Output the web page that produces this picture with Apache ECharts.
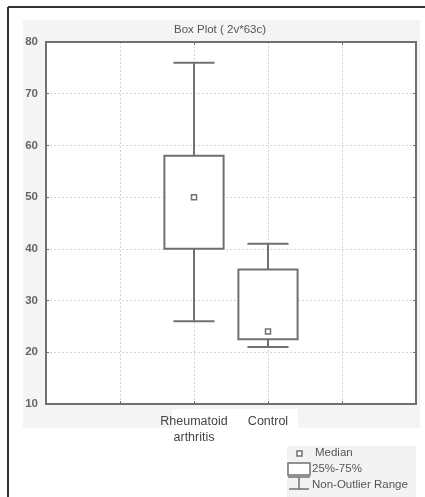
<!DOCTYPE html>
<html>
<head>
<meta charset="utf-8">
<script src="https://cdn.jsdelivr.net/npm/echarts@6/dist/echarts.min.js"></script>
<style>html,body{margin:0;padding:0;background:#fff;}#c{width:425px;height:497px;}</style>
</head>
<body>
<div id="c"></div>
<script>
// ---- data ----
const xTickLabels = ['', '', 'Rheumatoid\narthritis', 'Control', '', ''];
const groups = ['Rheumatoid\narthritis', 'Control'];
const whiskerLow = [26, 21];
const q1 = [40, 22.5];
const median = [50, 24];
const q3 = [58, 36];
const whiskerHigh = [76, 41];
const yTicks = [10, 20, 30, 40, 50, 60, 70, 80];
const titleText = 'Box Plot ( 2v*63c)';
const legendLabels = ['Median', '25%-75%', 'Non-Outlier Range'];

const seriesData = groups.map((g, i) => [xTickLabels.indexOf(g), whiskerLow[i], q1[i], median[i], q3[i], whiskerHigh[i]]);

const LINE = '#707070';
const FONT = 'Liberation Sans, Arial, sans-serif';
const chart = echarts.init(document.getElementById('c'), null, {renderer: 'canvas'});

function renderBox(params, api) {
  const x = api.value(0);
  const band = api.size([1, 0])[0];
  const bw = band * 0.8, cw = band * 0.555;
  const pLow = api.coord([x, api.value(1)]);
  const pQ1 = api.coord([x, api.value(2)]);
  const pMed = api.coord([x, api.value(3)]);
  const pQ3 = api.coord([x, api.value(4)]);
  const pHigh = api.coord([x, api.value(5)]);
  const cx = pQ1[0];
  const st = {stroke: LINE, lineWidth: 2, fill: null};
  return {
    type: 'group',
    children: [
      {type: 'line', shape: {x1: cx, y1: pHigh[1], x2: cx, y2: pQ3[1]}, style: st},
      {type: 'line', shape: {x1: cx, y1: pQ1[1], x2: cx, y2: pLow[1]}, style: st},
      {type: 'line', shape: {x1: cx - cw / 2, y1: pHigh[1], x2: cx + cw / 2, y2: pHigh[1]}, style: st},
      {type: 'line', shape: {x1: cx - cw / 2, y1: pLow[1], x2: cx + cw / 2, y2: pLow[1]}, style: st},
      {type: 'rect', shape: {x: cx - bw / 2, y: pQ3[1], width: bw, height: pQ1[1] - pQ3[1]}, style: {stroke: LINE, lineWidth: 2, fill: '#fff'}},
      {type: 'rect', shape: {x: cx - 2.5, y: pMed[1] - 2.5, width: 5, height: 5}, style: {stroke: LINE, lineWidth: 1.5, fill: '#fff'}}
    ]
  };
}

chart.setOption({
  animation: false,
  backgroundColor: '#fff',
  textStyle: {fontFamily: FONT},
  grid: {left: 46, right: 9, top: 42, bottom: 93, show: true, backgroundColor: '#fff', borderWidth: 0},
  xAxis: [{
    type: 'category', data: xTickLabels, boundaryGap: false,
    axisLine: {show: false},
    axisTick: {show: true, inside: true, length: 3, lineStyle: {color: LINE}},
    axisLabel: {show: true, color: '#444', fontSize: 12.5, margin: 10, lineHeight: 16, interval: 0, fontFamily: FONT},
    splitLine: {show: true, showMinLine: false, showMaxLine: false, lineStyle: {color: '#d4d4d4', type: [2, 2], width: 1}}
  }, {
    type: 'category', data: xTickLabels, boundaryGap: false, position: 'top',
    axisLine: {show: false},
    axisTick: {show: true, inside: true, length: 3, lineStyle: {color: LINE}},
    axisLabel: {show: false}, splitLine: {show: false}
  }],
  yAxis: [{
    type: 'value', min: yTicks[0], max: yTicks[yTicks.length - 1], interval: 10,
    axisLine: {show: false},
    axisTick: {show: true, inside: true, length: 3, lineStyle: {color: LINE}},
    axisLabel: {color: '#666', fontSize: 11.5, fontWeight: 'bold', margin: 8, fontFamily: FONT},
    splitLine: {show: true, showMinLine: false, showMaxLine: false, lineStyle: {color: '#d4d4d4', type: [2, 2], width: 1}}
  }, {
    type: 'value', min: yTicks[0], max: yTicks[yTicks.length - 1], interval: 10, position: 'right',
    axisLine: {show: false},
    axisTick: {show: true, inside: true, length: 3, lineStyle: {color: LINE}},
    axisLabel: {show: false}, splitLine: {show: false}
  }],
  graphic: [
    {type: 'rect', z: -10, shape: {x: 23, y: 20, width: 397, height: 408}, style: {fill: '#f4f4f4'}, silent: true},
    {type: 'rect', z: -9, shape: {x: 172, y: 409, width: 126, height: 19}, style: {fill: '#fff'}, silent: true},
    {type: 'rect', z: 100, shape: {x: 46, y: 42, width: 370, height: 362}, style: {stroke: LINE, lineWidth: 2, fill: null}, silent: true},
    {type: 'line', shape: {x1: 8, y1: 7, x2: 425, y2: 7}, style: {stroke: '#333', lineWidth: 2}},
    {type: 'line', shape: {x1: 8, y1: 7, x2: 8, y2: 497}, style: {stroke: '#333', lineWidth: 2}},
    {type: 'text', x: 220, y: 30, style: {text: titleText, fill: '#555', fontSize: 11.5, textAlign: 'center', textVerticalAlign: 'middle', fontFamily: FONT}},
    {type: 'rect', shape: {x: 287, y: 446, width: 129, height: 51}, style: {fill: '#f3f3f3'}},
    {type: 'rect', shape: {x: 297, y: 451, width: 5, height: 5}, style: {stroke: LINE, lineWidth: 1.5, fill: '#fff'}},
    {type: 'rect', shape: {x: 288, y: 463, width: 22, height: 12}, style: {stroke: LINE, lineWidth: 1.5, fill: '#fff'}},
    {type: 'line', shape: {x1: 288, y1: 477, x2: 310, y2: 477}, style: {stroke: LINE, lineWidth: 1.5}},
    {type: 'line', shape: {x1: 299, y1: 477, x2: 299, y2: 489}, style: {stroke: LINE, lineWidth: 1.5}},
    {type: 'line', shape: {x1: 289, y1: 489, x2: 309, y2: 489}, style: {stroke: LINE, lineWidth: 1.5}},
    {type: 'text', x: 315, y: 453, style: {text: legendLabels[0], fill: '#555', fontSize: 11.5, textVerticalAlign: 'middle', fontFamily: FONT}},
    {type: 'text', x: 312, y: 469, style: {text: legendLabels[1], fill: '#555', fontSize: 11.5, textVerticalAlign: 'middle', fontFamily: FONT}},
    {type: 'text', x: 312, y: 485, style: {text: legendLabels[2], fill: '#555', fontSize: 11.5, textVerticalAlign: 'middle', fontFamily: FONT}}
  ],
  series: [{
    type: 'custom',
    renderItem: renderBox,
    encode: {x: 0, y: [1, 2, 3, 4, 5]},
    data: seriesData,
    z: 5
  }]
});
</script>
</body>
</html>
